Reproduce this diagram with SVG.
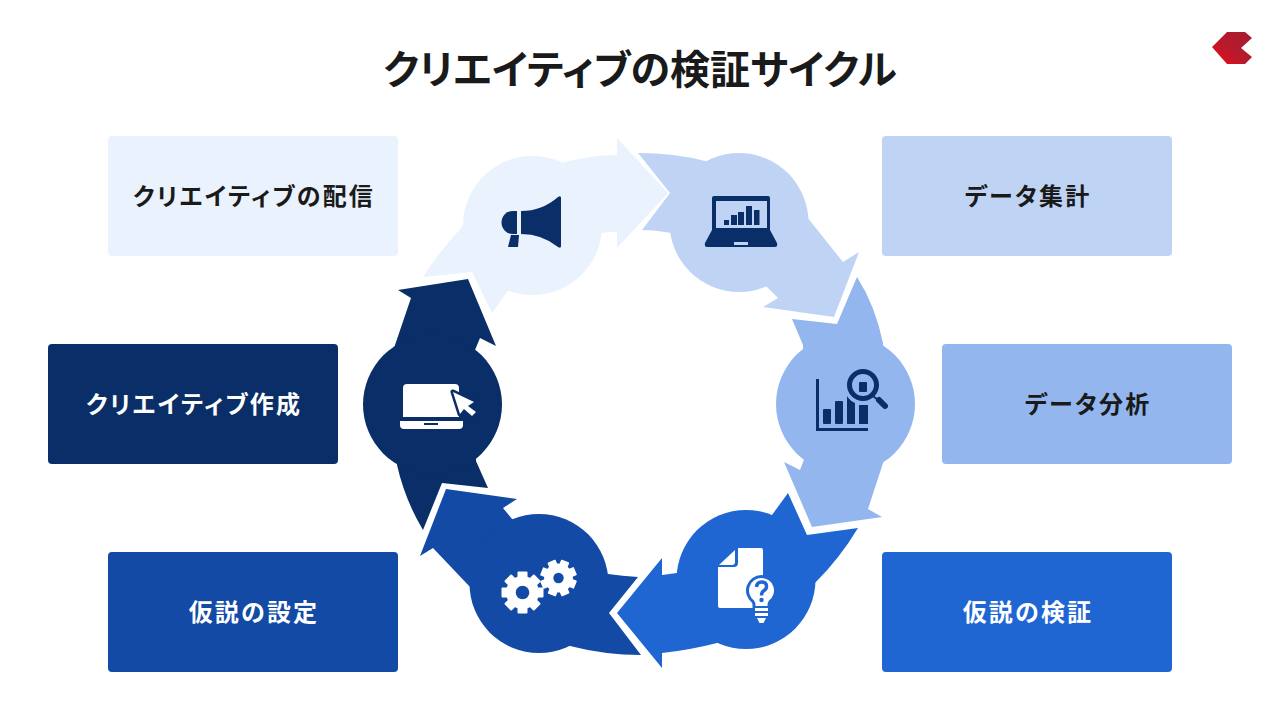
<svg xmlns="http://www.w3.org/2000/svg" xmlns:xlink="http://www.w3.org/1999/xlink" width="1280" height="720" viewBox="0 0 1280 720">
<style>
text{font-family:"Noto Sans CJK JP","Noto Sans",sans-serif;font-weight:700;text-anchor:middle;font-feature-settings:"palt"}
.t{font-size:40px;fill:#1a1a1a}
.l{font-size:24px;letter-spacing:2.2px}
.d{fill:#1a1a1a}.w{fill:#fff}
.c1{fill:#eaf2fd}.c2{fill:#bfd4f5}.c3{fill:#93b6ee}.c4{fill:#2066d3}.c5{fill:#124aa6}.c6{fill:#0a2e67}
.i{fill:#0a2e67}
</style>
<defs>
<linearGradient id="lg" x1="0" y1="1" x2="1" y2="0"><stop offset="0" stop-color="#f00a14"/><stop offset=".45" stop-color="#b81a2c"/><stop offset="1" stop-color="#a51c30"/></linearGradient>
<g id="gear"><circle r="16.500" fill="#fff"/>
<rect x="-5" y="-21" width="10" height="42" rx="1" fill="#fff"/>
<rect x="-5" y="-21" width="10" height="42" rx="1" fill="#fff" transform="rotate(45)"/>
<rect x="-5" y="-21" width="10" height="42" rx="1" fill="#fff" transform="rotate(90)"/>
<rect x="-5" y="-21" width="10" height="42" rx="1" fill="#fff" transform="rotate(135)"/>
</g>
</defs>
<rect width="1280" height="720" fill="#fff"/>
<text id="title" class="t" x="640" y="84">クリエイティブの検証サイクル</text>
<g id="logo"><path d="M1212 47L1227 32H1245L1252 38L1241 48L1252 57L1245 64H1227Z" fill="url(#lg)"/></g>

<g id="connectors">
<path id="arrow1" class="c1" d="M423 277Q440 250 464 225L562 163Q590 155 617 155V138L668 193L617 248V232Q610 232 601 233L507 292L492 313L472 272Z"/>
<path id="arrow2" class="c2" d="M638 153Q675 153 705 161L807 217L843 262L859 252L834 317L763 307L778 298L767 287L671 233Q655 230 642 230L670 193Z"/>
<path id="arrow3" class="c3" d="M792 319L837 324L857 277Q875 305 883 343L885 457L868 509L882 517L812 527L784 462L800 470L805 457L803 345Z"/>
<path id="arrow4" class="c4" d="M788 493L807 535L858 528Q840 558 815 583L717 643Q690 650 662 653V668L617 613L662 558V575L677 573L772 515Z"/>
<path id="arrow5" class="c5" d="M638 577L609 613L641 655Q605 655 570 646L471 588L433 548L420 556L446 489L517 499L503 508L512 519L608 574Q622 576 638 577Z"/>
<path id="arrow6" class="c6" d="M488 488L442 483L423 530Q405 500 397 465L394 348L411 298L398 290L468 279L496 346L480 338L475 350L476 461Z"/>
</g>

<g id="node1"><rect class="c1" x="108" y="136" width="290" height="120" rx="4"/><circle class="c1" cx="532.500" cy="225.500" r="69.500"/><text class="l d" x="254" y="205">クリエイティブの配信</text>
<g class="i"><path d="M521 211Q542 211 558 197Q561 195 561 198V246Q561 249 558 247Q542 234 521 234Z"/><path d="M517 211V234H513A11.500 11.500 0 0 1 513 211Z"/><path d="M511 235H519L518 247H508Z"/></g></g>

<g id="node2"><rect class="c2" x="882" y="136" width="290" height="120" rx="4"/><circle class="c2" cx="739" cy="222.500" r="69.500"/><text class="l d" x="1028" y="205">データ集計</text>
<g class="i"><path fill-rule="evenodd" d="M714 196H768Q770 196 770 198V230L777 243Q778 247 775 247H707Q704 247 705 243L712 230V198Q712 196 714 196ZM716 201V228H767V201Z"/><rect x="724" y="220" width="5" height="5"/><rect x="731" y="215" width="6" height="10"/><rect x="738" y="212" width="6" height="13"/><rect x="746" y="206" width="6" height="19"/><rect x="754" y="210" width="5.500" height="15"/></g><rect class="c2" x="734" y="242" width="14" height="3"/></g>

<g id="node3"><rect class="c3" x="942" y="344" width="290" height="120" rx="4"/><circle class="c3" cx="845.500" cy="404" r="69.500"/><text class="l d" x="1088" y="413">データ分析</text>
<g class="i"><path d="M816 379H819V428H868V431H816Z"/><rect x="823" y="409" width="8" height="15" rx="1"/><rect x="835" y="401" width="8" height="23" rx="1"/><path d="M847 396Q850 401 855 403V424H847Z"/><path d="M859 405H868V424H859Z"/><rect x="859" y="382" width="8" height="10" rx="1"/><circle cx="863" cy="385" r="13.500" fill="none" stroke="#0a2e67" stroke-width="5"/><path d="M873 396L878 400" stroke="#0a2e67" stroke-width="2" fill="none"/><path d="M879 400L885 406" stroke="#0a2e67" stroke-width="6" stroke-linecap="round" fill="none"/></g></g>

<g id="node4"><rect class="c4" x="882" y="552" width="290" height="120" rx="4"/><circle class="c4" cx="746" cy="579.500" r="69.500"/><text class="l w" x="1028" y="621">仮説の検証</text>
<path class="w" d="M738 548H761Q763 548 763 550V606Q763 608 761 608H720Q718 608 718 606V567H734Q738 567 738 563Z"/><path class="w" d="M735 550V562Q735 565 732 565H719Z"/>
<path class="w" stroke="#2066d3" stroke-width="6" paint-order="stroke" d="M761.500 578A12.500 12.500 0 0 1 769 600.500Q767.500 602 767.500 606H755.500Q755.500 602 754 600.500A12.500 12.500 0 0 1 761.500 578Z"/>
<path d="M756.500 587Q757 582 761.500 582Q766.500 582 766.500 586.500Q766.500 589 764 590.500Q761.500 592 761.500 595.500" fill="none" stroke="#2066d3" stroke-width="3.500"/><circle class="c4" cx="761.500" cy="600" r="2.200"/>
<path class="w" d="M755 608H768V611H755ZM755 613H768V616H755ZM757 618H766L763.500 623H759.500Z"/></g>

<g id="node5"><rect class="c5" x="108" y="552" width="290" height="120" rx="4"/><circle class="c5" cx="539" cy="583.500" r="69.500"/><text class="l w" x="254" y="621">仮説の設定</text>
<use xlink:href="#gear" href="#gear" transform="translate(522.500 592.500)"/><circle class="c5" cx="522.500" cy="592.500" r="6.800"/>
<use xlink:href="#gear" href="#gear" transform="translate(558.500 578) rotate(22) scale(.87)"/><circle class="c5" cx="558.500" cy="578" r="5.200"/></g>

<g id="node6"><rect class="c6" x="48" y="344" width="290" height="120" rx="4"/><circle class="c6" cx="432.500" cy="404.500" r="69.500"/><text class="l w" x="194" y="413">クリエイティブ作成</text>
<path class="w" d="M407 384H455Q459 384 459 388V417H403V388Q403 384 407 384Z"/><path class="w" d="M400 421H463V425Q463 429 459 429H404Q400 429 400 425Z"/><rect class="c6" x="424" y="423" width="14" height="2"/>
<path class="w" stroke="#0a2e67" stroke-width="5" stroke-linejoin="round" paint-order="stroke" d="M453 392L474 402L468 406L476 412L472 416L464 409L460 414Z"/></g>
</svg>
